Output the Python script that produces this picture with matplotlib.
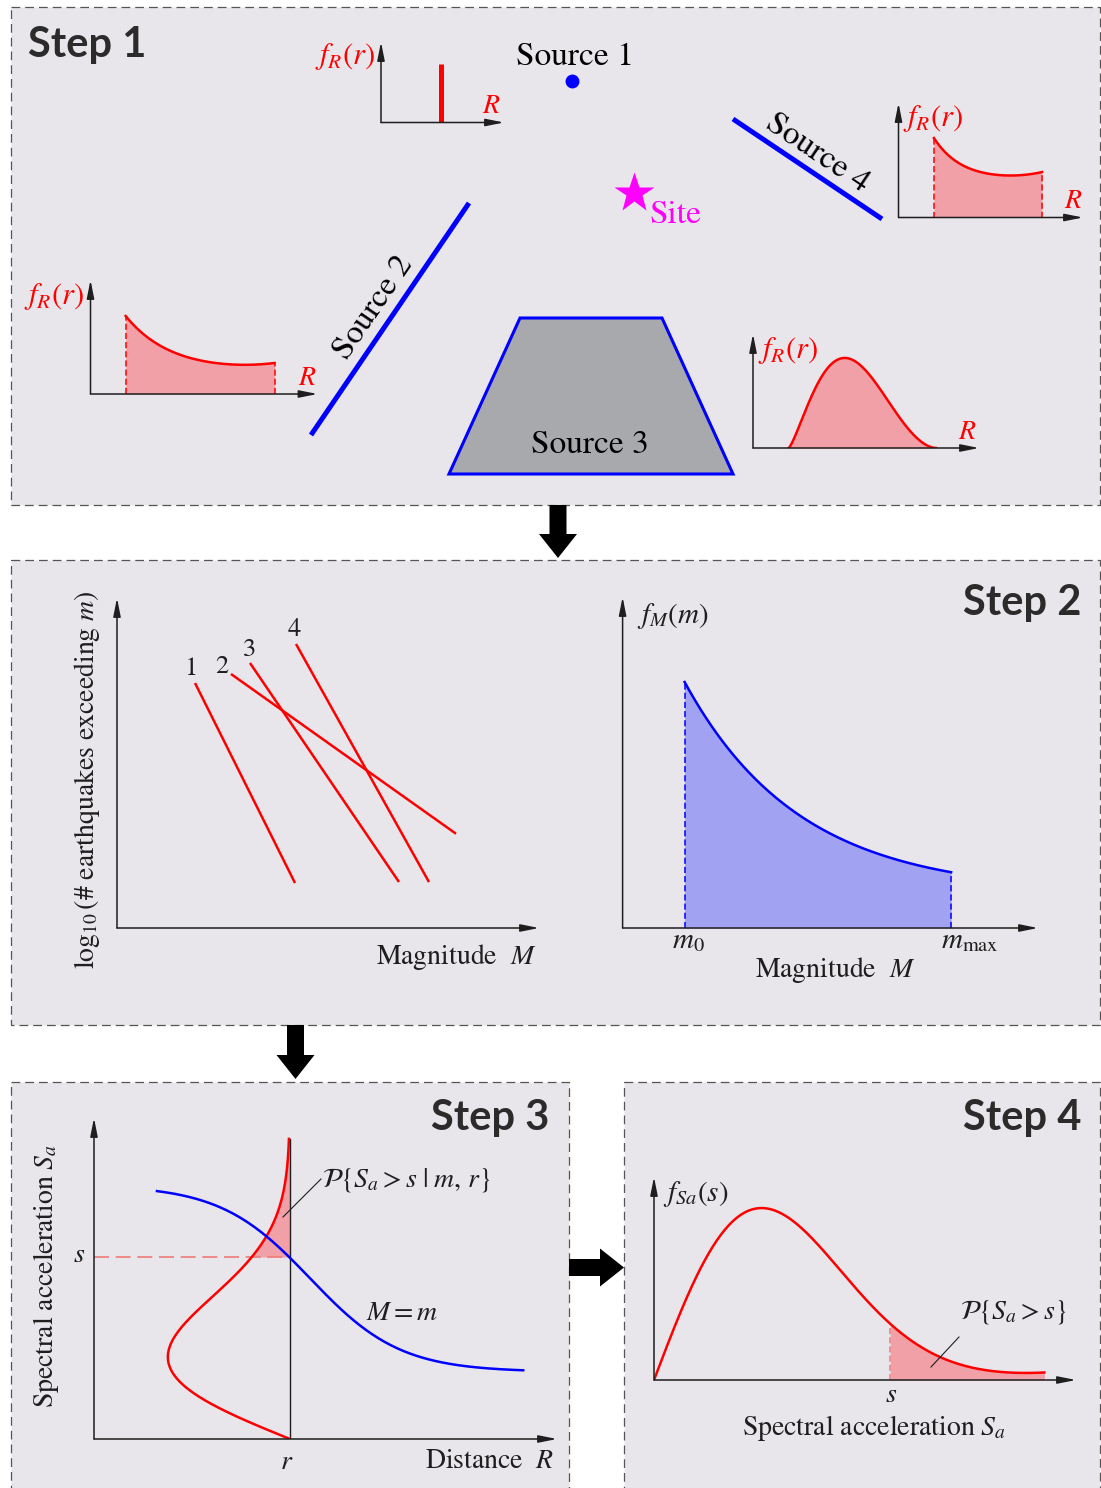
import numpy as np
import matplotlib
matplotlib.use("Agg")
import matplotlib.pyplot as plt
from matplotlib.patches import Rectangle, Polygon, FancyArrow

plt.rcParams["mathtext.fontset"] = "stix"
plt.rcParams["font.family"] = ["STIXGeneral", "DejaVu Serif"]

W, H = 1101, 1488

# ---------------------------------------------------------------- data
# Step 1: source geometry on the site map (sheet pixels)
site_xy = (634, 193)
source1_xy = (572, 81)
source2_x, source2_y = [311, 469], [435, 203]
source4_x, source4_y = [733, 882], [119, 219]
source3_x = [449, 520, 662, 733]
source3_y = [474, 318, 318, 474]

# distance pdfs f_R(r), in fractions of each small plot's axes
s1_r, s1_height = 0.488, 0.727
s2_r, s2_f, s2_floor, s2_tau = [0.155, 0.811], [0.684, 0.272], 0.20, 0.30
s4_r, s4_f, s4_floor, s4_tau = [0.192, 0.778], [0.694, 0.397], 0.33, 0.25
s3_r, s3_peak, s3_mode_t, s3_power = [0.158, 0.810], 0.79, 0.38, 1.8

# Step 2: Gutenberg-Richter recurrence lines (magnitude units) and f_M(m)
gr_labels = ["1", "2", "3", "4"]
gr_m_lo = [1.56, 2.28, 2.66, 3.58]
gr_m_hi = [3.56, 6.78, 5.64, 6.24]
gr_logn_lo = [4.90, 5.08, 5.30, 5.68]
gr_b = [2.00, 0.71, 1.47, 1.79]
fm_m0, fm_mmax = 1.24, 6.57
fm_f0, fm_floor, fm_beta = 4.92, 0.70, 0.435

# Step 3: ground-motion model (axes fractions)
r_site, s_level = 0.423, 0.567
gm_r = [0.136, 0.927]
gm_top, gm_bot, gm_mid, gm_width = 0.791, 0.209, 0.467, 0.0972
sa_mode, sa_width, sa_top = 0.2555, 0.2635, 0.935

# Step 4: hazard pdf of Sa (axes fractions)
hz_mode, hz_peak, hz_end, hz_tail = 0.255, 0.847, 0.925, 0.03
hz_s = 0.559

RED, BLUE = "#ff0000", "#0000ff"
RED_FILL, BLUE_FILL = "#f0a0a6", "#a2a2f2"
PANEL_BG = "#e8e6eb"
INK = "#1e1e1e"

# label offsets of the recurrence-line numbers (magnitude units)
gr_label_dx = [-0.08, -0.19, 0.0, -0.04]
gr_label_dy = [0.28, 0.14, 0.26, 0.28]


def line_pdf(t, f0, f1, floor, tau):
    c = f1 - floor - (f0 - floor) * np.exp(-1 / tau)
    return floor + (f0 - floor) * np.exp(-t / tau) + c * t ** 4


def area_pdf(t, mode_t, power):
    q = np.log(0.5) / np.log(mode_t)
    return np.sin(np.pi * np.clip(t, 0, 1) ** q) ** power


def rayleigh_ratio(y, mode):
    z = y / mode
    return z * np.exp((1 - z ** 2) / 2)


fig = plt.figure(figsize=(W / 100, H / 100), dpi=100)
fig.patch.set_facecolor("white")


def sheet_axes():
    ax = fig.add_axes([0, 0, 1, 1])
    ax.set_xlim(0, W)
    ax.set_ylim(H, 0)
    ax.axis("off")
    return ax


def mini_axes(ox, oy, tx, ty, xmax=1.0, ymax=1.0):
    ax = fig.add_axes([ox / W, 1 - oy / H, (tx - ox) / W, (oy - ty) / H])
    ax.set_xlim(0, xmax)
    ax.set_ylim(0, ymax)
    ax.axis("off")
    for end in [(1, 0), (0, 1)]:
        ax.annotate("", xy=end, xytext=(0, 0), xycoords="axes fraction",
                    arrowprops=dict(arrowstyle="-|>,head_length=1.1,head_width=0.22",
                                    color=INK, lw=1.1, shrinkA=0, shrinkB=0,
                                    mutation_scale=10))
    return ax


bg = sheet_axes()

# dashed panels
for x0, y0, x1, y1 in [(11, 7, 1100, 505), (11, 560, 1100, 1025),
                       (11, 1082, 569, 1500), (624, 1082, 1100, 1500)]:
    bg.add_patch(Rectangle((x0, y0), x1 - x0, y1 - y0, facecolor=PANEL_BG,
                           edgecolor="#555555", lw=0.9, ls=(0, (7, 4))))

# block arrows between steps
arrow_kw = dict(width=17, head_width=38, head_length=24,
                length_includes_head=True, fc="black", ec="none")
bg.add_patch(FancyArrow(558, 505, 0, 53, **arrow_kw))
bg.add_patch(FancyArrow(295.5, 1025, 0, 54, **arrow_kw))
bg.add_patch(FancyArrow(569, 1267.5, 55, 0, **arrow_kw))

# Step 1 map
bg.plot(source2_x, source2_y, color=BLUE, lw=3.6, solid_capstyle="butt")
bg.plot(source4_x, source4_y, color=BLUE, lw=3.6, solid_capstyle="butt")
bg.add_patch(Polygon(np.column_stack([source3_x, source3_y]), closed=True,
                     facecolor="#a8a9ad", edgecolor=BLUE, lw=2.2))
bg.plot(*source1_xy, "o", color=BLUE, ms=10, mec="none")
bg.plot(*site_xy, "*", color="#ff00ff", ms=30, mec="none")

# f_R(r) for the four sources
ax = mini_axes(381, 122.5, 504, 42)
ax.plot([s1_r, s1_r], [0, s1_height], color=RED, lw=3.6, solid_capstyle="butt")

for (ox, oy, tx, ty), rr, ff, floor, tau in [
        ((90.5, 394, 317.5, 280), s2_r, s2_f, s2_floor, s2_tau),
        ((898.5, 217.5, 1083, 103), s4_r, s4_f, s4_floor, s4_tau)]:
    ax = mini_axes(ox, oy, tx, ty)
    t = np.linspace(0, 1, 200)
    r = rr[0] + t * (rr[1] - rr[0])
    f = line_pdf(t, ff[0], ff[1], floor, tau)
    ax.fill_between(r, 0, f, color=RED_FILL, lw=0)
    ax.plot(r, f, color=RED, lw=1.8)
    for xv, fv in [(r[0], f[0]), (r[-1], f[-1])]:
        ax.plot([xv, xv], [0, fv], color=RED, lw=1.1, ls=(0, (4, 2)))

ax = mini_axes(753, 448, 979, 334)
t = np.linspace(0, 1, 300)
r = s3_r[0] + t * (s3_r[1] - s3_r[0])
f = s3_peak * area_pdf(t, s3_mode_t, s3_power)
ax.fill_between(r, 0, f, color=RED_FILL, lw=0)
ax.plot(r, f, color=RED, lw=1.8)

# Step 2 left: recurrence lines
ax = mini_axes(117, 928, 539, 598, xmax=(539 - 117) / 50, ymax=(928 - 598) / 50)
for lab, m_lo, m_hi, n_lo, b, dx, dy in zip(gr_labels, gr_m_lo, gr_m_hi,
                                            gr_logn_lo, gr_b, gr_label_dx, gr_label_dy):
    a = n_lo + b * m_lo
    m = np.array([m_lo, m_hi])
    ax.plot(m, a - b * m, color=RED, lw=1.8, solid_capstyle="butt")
    ax.text(m_lo + dx, n_lo + dy, lab, fontsize=19, color=INK,
            ha="center", va="center")

# Step 2 right: magnitude pdf
ax = mini_axes(622.6, 928, 1038, 597, xmax=(1038 - 622.6) / 50, ymax=(928 - 597) / 50)
m = np.linspace(fm_m0, fm_mmax, 200)
f = fm_floor + (fm_f0 - fm_floor) * np.exp(-fm_beta * (m - fm_m0))
ax.fill_between(m, 0, f, color=BLUE_FILL, lw=0)
ax.plot(m, f, color=BLUE, lw=1.8)
for xv, fv in [(m[0], f[0]), (m[-1], f[-1])]:
    ax.plot([xv, xv], [0, fv], color=BLUE, lw=1.1, ls=(0, (4, 2)))

# Step 3: ground motion given m, r
ax = mini_axes(94, 1439, 557, 1118)
ax.plot([0, r_site], [s_level, s_level], color="#f07a7a", lw=1.2, ls=(0, (9, 4)))
y = np.linspace(0, sa_top, 300)
x = r_site - sa_width * rayleigh_ratio(y, sa_mode)
ys = np.linspace(s_level, sa_top, 200)
xs = r_site - sa_width * rayleigh_ratio(ys, sa_mode)
ax.fill_betweenx(ys, xs, r_site, color=RED_FILL, lw=0)
ax.plot([r_site, r_site], [0, sa_top], color=INK, lw=1.0)
ax.plot(x, y, color=RED, lw=1.8)
xr = np.linspace(gm_r[0], gm_r[1], 300)
ax.plot(xr, gm_top - (gm_top - gm_bot) / (1 + np.exp(-(xr - gm_mid) / gm_width)),
        color=BLUE, lw=1.8)

# Step 4: pdf of Sa
ax = mini_axes(654, 1380, 1076, 1177)
x = np.linspace(0, hz_end, 300)
f = hz_peak * rayleigh_ratio(x, hz_mode) + hz_tail * (x / hz_end) ** 6
tail = x >= hz_s
ax.fill_between(x[tail], 0, f[tail], color=RED_FILL, lw=0)
fs = hz_peak * rayleigh_ratio(hz_s, hz_mode) + hz_tail * (hz_s / hz_end) ** 6
ax.plot([hz_s, hz_s], [0, fs], color="#f07a7a", lw=1.1, ls=(0, (4, 2)))
ax.plot(x, f, color=RED, lw=1.8)

# ---------------------------------------------------------------- text layer
top = sheet_axes()
step_kw = dict(family="Lato", fontweight="bold", fontsize=30, color="#2b2b2b",
               va="baseline")
top.text(28, 57, "Step 1", ha="left", **step_kw)
top.text(1081, 615, "Step 2", ha="right", **step_kw)
top.text(549, 1130, "Step 3", ha="right", **step_kw)
top.text(1081, 1130, "Step 4", ha="right", **step_kw)

lab = dict(fontsize=22, color=RED, va="center")
top.text(375, 56, r"$f_R(r)$", ha="right", **lab)
top.text(84, 297, r"$f_R(r)$", ha="right", **lab)
top.text(903, 119, r"$f_R(r)$", ha="left", **lab)
top.text(758, 351, r"$f_R(r)$", ha="left", **lab)
for xr_, yr_ in [(491, 106), (307, 378), (1073, 201), (967, 432)]:
    top.text(xr_, yr_, r"$R$", ha="center", fontsize=20, color=RED, va="center")

src = dict(fontsize=24, color="black")
top.text(516, 65, "Source 1", ha="left", va="baseline", **src)
top.text(590, 453, "Source 3", ha="center", va="baseline", **src)
top.text(374, 308, "Source 2", ha="center", va="center", rotation=55.7,
         rotation_mode="anchor", **src)
top.text(817, 153, "Source 4", ha="center", va="center", rotation=-33.9,
         rotation_mode="anchor", **src)
top.text(650, 223, "Site", ha="left", va="baseline", fontsize=24, color="#ff00ff")

txt = dict(fontsize=20, color=INK)
top.text(87, 780, r"$\log_{10}$(# earthquakes exceeding $m$)", rotation=90,
         ha="center", va="center", **txt)
top.text(536, 964, r"Magnitude  $M$", ha="right", va="baseline", **txt)
top.text(637, 616, r"$f_M(m)$", ha="left", va="center", fontsize=21, color=INK)
top.text(688, 948, r"$m_0$", ha="center", va="baseline", fontsize=21, color=INK)
top.text(970, 948, r"$m_{\rm max}$", ha="center", va="baseline", fontsize=21, color=INK)
top.text(835, 977, r"Magnitude  $M$", ha="center", va="baseline", **txt)

top.text(46, 1276, r"Spectral acceleration $S_a$", rotation=90,
         ha="center", va="center", **txt)
top.text(79, 1255, r"$s$", ha="center", va="center", **txt)
top.text(287, 1462, r"$r$", ha="center", va="center", **txt)
top.text(554, 1461, r"Distance  $R$", ha="right", va="center", **txt)
top.text(402, 1313, r"$M = m$", ha="center", va="center", **txt)
top.text(322, 1180, r"$\mathcal{P}\{S_a > s\;|\;m,\, r\}$", ha="left", va="center", **txt)
top.plot([283, 321], [1217, 1179], color=INK, lw=0.8)

top.text(663, 1194, r"$f_{Sa}(s)$", ha="left", va="center", fontsize=21, color=INK)
top.text(960, 1312, r"$\mathcal{P}\{S_a > s\}$", ha="left", va="center", **txt)
top.plot([931, 959], [1367, 1337], color=INK, lw=0.8)
top.text(891, 1395, r"$s$", ha="center", va="center", **txt)
top.text(874, 1428, r"Spectral acceleration $S_a$", ha="center", va="center", **txt)

fig.savefig("out.png", dpi=100)
